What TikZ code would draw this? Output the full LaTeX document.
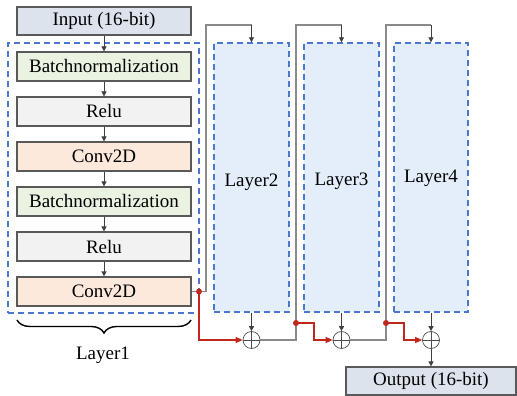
\documentclass[tikz,border=0pt]{standalone}
\usepackage{fontspec}
\setmainfont{Liberation Serif}
\usetikzlibrary{arrows.meta,decorations.pathreplacing}
\definecolor{inpfill}{HTML}{DCE3ED}
\definecolor{bnfill}{HTML}{EAF3E1}
\definecolor{relufill}{HTML}{F2F2F2}
\definecolor{convfill}{HTML}{FCE9DC}
\definecolor{layfill}{HTML}{E3EEFA}
\definecolor{dashblue}{HTML}{4A78D0}
\definecolor{resred}{HTML}{C0281E}
\definecolor{boxborder}{HTML}{595959}
\definecolor{linegray}{HTML}{8A8A8A}
\tikzset{
  txt/.style={font=\fontsize{19}{21}\selectfont},
  blk/.style={txt, draw=boxborder, line width=1.2pt, minimum width=174pt, minimum height=29pt, inner sep=0pt},
  iobox/.style={blk, fill=inpfill, minimum height=28pt},
  bnbox/.style={blk, fill=bnfill},
  relubox/.style={blk, fill=relufill},
  convbox/.style={blk, fill=convfill},
  layerbox/.style={draw=dashblue, line width=1.3pt, dash pattern=on 6pt off 4pt, fill=layfill, inner sep=0pt, minimum height=269pt, minimum width=75pt},
  outerbox/.style={draw=dashblue, line width=1.3pt, dash pattern=on 6pt off 4pt, inner sep=0pt, minimum width=191pt, minimum height=270pt},
  addc/.style={circle, draw=black!70, line width=0.7pt, minimum size=17pt, inner sep=0pt, path picture={\draw[black!70, line width=0.7pt] (path picture bounding box.north) -- (path picture bounding box.south) (path picture bounding box.west) -- (path picture bounding box.east);}},
  flow/.style={draw=black!75, line width=0.7pt, -{Triangle[length=5pt,width=5pt]}},
  gline/.style={draw=linegray, line width=1.1pt},
  redl/.style={draw=resred, line width=1.4pt},
  redarr/.style={redl, -{Triangle[length=7pt,width=6pt]}},
  dot/.style={circle, fill=resred, inner sep=0pt, minimum size=6pt},
  lbl/.style={txt, inner sep=0pt}
}
\begin{document}
\begin{tikzpicture}[x=1pt,y=-1pt]
\useasboundingbox (0,0) rectangle (517,396);
% Layer1 frame
\node[outerbox] (L1) at (103.5,178) {};
% input
\node[iobox] (in) at (104,21) {Input (16-bit)};
\node[bnbox] (bn1) at (104,66.5) {Batchnormalization};
\node[relubox] (re1) at (104,111.5) {Relu};
\node[convbox] (cv1) at (104,156.5) {Conv2D};
\node[bnbox] (bn2) at (104,201.5) {Batchnormalization};
\node[relubox] (re2) at (104,246.5) {Relu};
\node[convbox] (cv2) at (104,291.5) {Conv2D};
\draw[flow] (in) -- (bn1);
\draw[flow] (bn1) -- (re1);
\draw[flow] (re1) -- (cv1);
\draw[flow] (cv1) -- (bn2);
\draw[flow] (bn2) -- (re2);
\draw[flow] (re2) -- (cv2);
% brace
\draw[line width=1.4pt, decorate, decoration={brace, amplitude=13pt}] (191,320) -- (17,320);
\node[lbl] (l1lbl) at (103,355) {Layer1};
% layers
\node[layerbox] (L2) at (251.5,177.5) {};
\node[layerbox] (L3) at (341.5,177.5) {};
\node[layerbox, minimum width=74pt] (L4) at (431,177.5) {};
\node[lbl] (l2lbl) at (251.5,182) {Layer2};
\node[lbl] (l3lbl) at (341.5,181) {Layer3};
\node[lbl] (l4lbl) at (431,178) {Layer4};
% adders
\node[addc] (a1) at (251.5,340) {};
\node[addc] (a2) at (341.5,340) {};
\node[addc] (a3) at (431,340) {};
\node[iobox, minimum width=170pt] (out) at (431,381) {Output (16-bit)};
% coordinates
\coordinate (d1) at (199,291.5);
\coordinate (d2) at (296,323);
\coordinate (d3) at (386,323);
\coordinate (t1) at (206,25);
\coordinate (t2) at (296,25);
\coordinate (t3) at (386,25);
% gray main path
\draw[gline] (cv2.east) -- (206,291.5) -- (t1) -- (t1 -| L2.north);
\draw[flow] (t1 -| L2.north) -- (L2.north);
\draw[gline] (a1.east) -- (a1.east -| t2) -- (t2) -- (t2 -| L3.north);
\draw[flow] (t2 -| L3.north) -- (L3.north);
\draw[gline] (a2.east) -- (a2.east -| t3) -- (t3) -- (t3 -| L4.north);
\draw[flow] (t3 -| L4.north) -- (L4.north);
\draw[flow] (L2.south) -- (a1.north);
\draw[flow] (L3.south) -- (a2.north);
\draw[flow] (L4.south) -- (a3.north);
\draw[flow] (a3.south) -- (out.north);
% red residual
\draw[redarr] (d1) -- (d1 |- a1.west) -- (a1.west);
\draw[redarr] (d2) -- (314,323) -- (314,340) -- (a2.west);
\draw[redarr] (d3) -- (404,323) -- (404,340) -- (a3.west);
\node[dot] (p1) at (d1) {};
\node[dot] (p2) at (d2) {};
\node[dot] (p3) at (d3) {};
\end{tikzpicture}
\end{document}
